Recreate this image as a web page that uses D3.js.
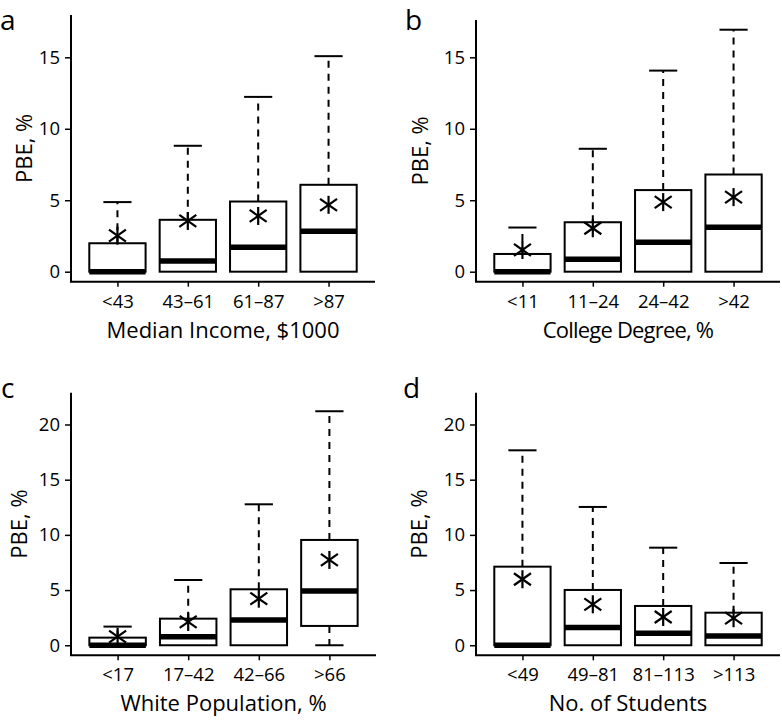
<!DOCTYPE html>
<html>
<head>
<meta charset="utf-8">
<script src="https://cdn.jsdelivr.net/npm/d3@7"></script>
<style>
  html, body { margin: 0; padding: 0; background: #fff; }
  svg { display: block; font-family: "Open Sans", "Noto Sans", sans-serif; }
</style>
</head>
<body>
<svg id="chart" width="782" height="722"></svg>
<script>
// ---------- data ----------
const catsA = ["<43", "43\u201361", "61\u201387", ">87"];
const catsB = ["<11", "11\u201324", "24\u201342", ">42"];
const catsC = ["<17", "17\u201342", "42\u201366", ">66"];
const catsD = ["<49", "49\u201381", "81\u2013113", ">113"];

const titlesX = ["Median Income, $1000", "College Degree, %", "White Population, %", "No. of Students"];
const titleY = "PBE, %";
const panelLetters = ["a", "b", "c", "d"];

// box statistics per panel: lower whisker, Q1, median, Q3, upper whisker, mean
const loA = [0, 0, 0, 0];
const q1A = [0, 0, 0, 0];
const medA = [0, 0.75, 1.71, 2.83];
const q3A = [1.99, 3.63, 4.91, 6.08];
const hiA = [4.87, 8.81, 12.23, 15.08];
const meanA = [2.52, 3.55, 3.90, 4.68];

const loB = [0, 0, 0, 0];
const q1B = [0, 0, 0, 0];
const medB = [0, 0.87, 2.06, 3.11];
const q3B = [1.24, 3.46, 5.71, 6.80];
const hiB = [3.09, 8.60, 14.07, 16.93];
const meanB = [1.52, 3.04, 4.87, 5.22];

const loC = [0, 0, 0, 0];
const q1C = [0, 0, 0, 1.75];
const medC = [0, 0.78, 2.29, 4.92];
const q3C = [0.69, 2.41, 5.07, 9.54];
const hiC = [1.69, 5.91, 12.77, 21.20];
const meanC = [0.78, 2.11, 4.22, 7.73];

const loD = [0, 0, 0, 0];
const q1D = [0, 0, 0, 0];
const medD = [0, 1.60, 1.09, 0.84];
const q3D = [7.12, 5.01, 3.56, 2.95];
const hiD = [17.66, 12.53, 8.84, 7.45];
const meanD = [5.98, 3.71, 2.56, 2.45];

const ticksAB = [0, 5, 10, 15];
const ticksCD = [0, 5, 10, 15, 20];

// ---------- layout ----------
const panels = [
  { cats: catsA, lo: loA, q1: q1A, med: medA, q3: q3A, hi: hiA, mean: meanA, ticks: ticksAB,
    x0: 71, x1: 375, y0: 15, y1: 281.7, dom: [-0.70, 17.96], titleX: titlesX[0], letter: panelLetters[0],
    lx: 0, ly: 30, ytx: 23, ls: 0 },
  { cats: catsB, lo: loB, q1: q1B, med: medB, q3: q3B, hi: hiB, mean: meanB, ticks: ticksAB,
    x0: 476, x1: 780, y0: 20, y1: 281.7, dom: [-0.70, 17.61], titleX: titlesX[1], letter: panelLetters[1],
    lx: 405, ly: 30, ytx: 419, ls: -0.8 },
  { cats: catsC, lo: loC, q1: q1C, med: medC, q3: q3C, hi: hiC, mean: meanC, ticks: ticksCD,
    x0: 71, x1: 376, y0: 392.7, y1: 655.3, dom: [-0.91, 22.88], titleX: titlesX[2], letter: panelLetters[2],
    lx: 1, ly: 398, ytx: 18, ls: 0 },
  { cats: catsD, lo: loD, q1: q1D, med: medD, q3: q3D, hi: hiD, mean: meanD, ticks: ticksCD,
    x0: 476, x1: 780, y0: 392.7, y1: 655.3, dom: [-0.91, 22.88], titleX: titlesX[3], letter: panelLetters[3],
    lx: 403, ly: 398, ytx: 418, ls: 0 }
];

const svg = d3.select("#chart");

panels.forEach(p => {
  const g = svg.append("g");
  const x = d3.scaleLinear().domain([0.34, 4.66]).range([p.x0, p.x1]);
  const y = d3.scaleLinear().domain(p.dom).range([p.y1, p.y0]);
  const n = p.cats.length;
  const idx = d3.range(n);
  const bw = 0.8, sw = 0.4;

  // whiskers (dashed)
  g.selectAll(".wu").data(idx).join("line")
    .attr("x1", i => x(i + 1)).attr("x2", i => x(i + 1))
    .attr("y1", i => y(p.q3[i])).attr("y2", i => y(p.hi[i]))
    .attr("stroke", "#000").attr("stroke-width", 2).attr("stroke-dasharray", "7,6");
  g.selectAll(".wl").data(idx.filter(i => p.q1[i] > p.lo[i])).join("line")
    .attr("x1", i => x(i + 1)).attr("x2", i => x(i + 1))
    .attr("y1", i => y(p.q1[i])).attr("y2", i => y(p.lo[i]))
    .attr("stroke", "#000").attr("stroke-width", 2).attr("stroke-dasharray", "7,6");

  // staples
  g.selectAll(".su").data(idx).join("line")
    .attr("x1", i => x(i + 1 - sw / 2)).attr("x2", i => x(i + 1 + sw / 2))
    .attr("y1", i => y(p.hi[i])).attr("y2", i => y(p.hi[i]))
    .attr("stroke", "#000").attr("stroke-width", 2);
  g.selectAll(".sl").data(idx.filter(i => p.q1[i] > p.lo[i])).join("line")
    .attr("x1", i => x(i + 1 - sw / 2)).attr("x2", i => x(i + 1 + sw / 2))
    .attr("y1", i => y(p.lo[i])).attr("y2", i => y(p.lo[i]))
    .attr("stroke", "#000").attr("stroke-width", 2);

  // boxes
  g.selectAll(".box").data(idx).join("rect")
    .attr("x", i => x(i + 1 - bw / 2))
    .attr("width", i => x(i + 1 + bw / 2) - x(i + 1 - bw / 2))
    .attr("y", i => y(p.q3[i]))
    .attr("height", i => y(p.q1[i]) - y(p.q3[i]))
    .attr("fill", "#fff").attr("stroke", "#000").attr("stroke-width", 2);

  // medians
  g.selectAll(".med").data(idx).join("line")
    .attr("x1", i => x(i + 1 - bw / 2)).attr("x2", i => x(i + 1 + bw / 2))
    .attr("y1", i => y(p.med[i])).attr("y2", i => y(p.med[i]))
    .attr("stroke", "#000").attr("stroke-width", 5.5);

  // means (asterisks)
  const star = g.selectAll(".star").data(idx).join("g")
    .attr("transform", i => `translate(${x(i + 1)},${y(p.mean[i])})`);
  star.append("line").attr("x1", 0).attr("x2", 0).attr("y1", -9).attr("y2", 9);
  star.append("line").attr("x1", -8.5).attr("x2", 8.5).attr("y1", -6).attr("y2", 6);
  star.append("line").attr("x1", -8.5).attr("x2", 8.5).attr("y1", 6).attr("y2", -6);
  star.selectAll("line").attr("stroke", "#000").attr("stroke-width", 2.2);

  // axes
  const yAxis = d3.axisLeft(y).tickValues(p.ticks).tickSize(6).tickPadding(5).tickSizeOuter(0);
  const ya = g.append("g").attr("transform", `translate(${p.x0},0)`).call(yAxis);
  ya.select(".domain").remove();
  ya.selectAll(".tick line").attr("stroke-width", 1.5);
  ya.selectAll("text").attr("font-size", 18.5).attr("fill", "#000").attr("font-family", "Open Sans");

  const xAxis = d3.axisBottom(x).tickValues(idx.map(i => i + 1)).tickFormat(v => p.cats[v - 1])
    .tickSize(5).tickPadding(8).tickSizeOuter(0);
  const xa = g.append("g").attr("transform", `translate(0,${p.y1})`).call(xAxis);
  xa.select(".domain").remove();
  xa.selectAll(".tick line").attr("stroke-width", 1.5);
  xa.selectAll("text").attr("font-size", 18.5).attr("fill", "#000").attr("font-family", "Open Sans");

  // L-shaped frame
  g.append("path")
    .attr("d", `M${p.x0},${p.y0}V${p.y1}H${p.x1}`)
    .attr("fill", "none").attr("stroke", "#000").attr("stroke-width", 2);

  // titles
  g.append("text")
    .attr("x", (p.x0 + p.x1) / 2).attr("y", p.y1 + 56)
    .attr("text-anchor", "middle").attr("font-size", 22).attr("letter-spacing", p.ls)
    .text(p.titleX);
  g.append("text")
    .attr("transform", `translate(${p.ytx},${(p.y0 + p.y1) / 2}) rotate(-90)`)
    .attr("text-anchor", "middle").attr("dominant-baseline", "central").attr("font-size", 22)
    .text(titleY);
  g.append("text")
    .attr("x", p.lx).attr("y", p.ly).attr("font-size", 28)
    .text(p.letter);
});
</script>
</body>
</html>
